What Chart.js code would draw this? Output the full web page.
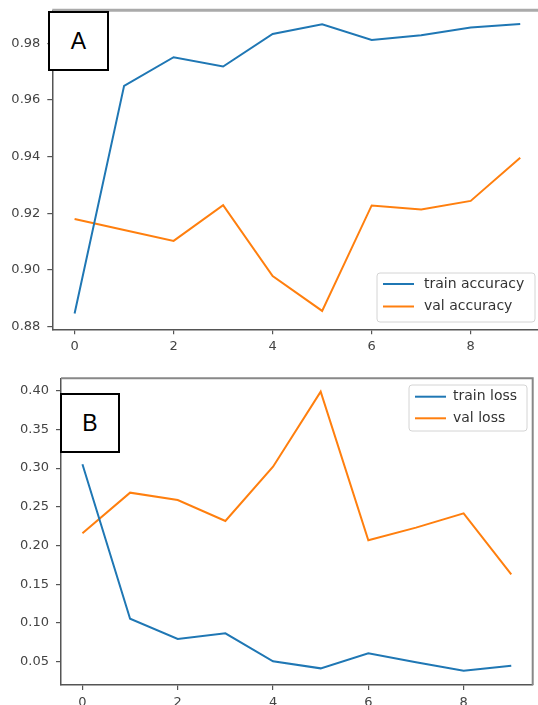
<!DOCTYPE html>
<html>
<head>
<meta charset="utf-8">
<title>Accuracy and loss</title>
<script src="https://cdn.jsdelivr.net/npm/chart.js@4.4.0/dist/chart.umd.min.js"></script>
<style>
  html, body { margin: 0; padding: 0; background: #fff; overflow: hidden; width: 538px; height: 705px; }
  canvas { position: absolute; left: 0; }
  .tag {
    position: absolute; box-sizing: border-box; border: 2px solid #000; background: #fff;
    font-family: "Liberation Sans", Arial, sans-serif; font-size: 23px; color: #000;
    display: flex; align-items: center; justify-content: center;
  }
</style>
</head>
<body>
<canvas id="accChart" width="560" height="360" style="top:-5px"></canvas>
<canvas id="lossChart" width="560" height="360" style="top:360px"></canvas>
<div class="tag" style="left:48px;top:11px;width:61px;height:60px">A</div>
<div class="tag" style="left:60px;top:393px;width:60px;height:60px">B</div>
<script>
// epochs on the x axis
const epochs = [0, 1, 2, 3, 4, 5, 6, 7, 8, 9];
const epochTicks = [0, 2, 4, 6, 8];

// panel A
const trainAcc = [0.8847, 0.9650, 0.9751, 0.9718, 0.9833, 0.9867, 0.9812, 0.9828, 0.9856, 0.9868];
const valAcc = [0.9180, 0.9141, 0.9103, 0.9229, 0.8979, 0.8856, 0.9228, 0.9214, 0.9244, 0.9396];
const accTicks = [0.88, 0.90, 0.92, 0.94, 0.96, 0.98];

// panel B
const trainLoss = [0.3049, 0.1055, 0.0793, 0.0866, 0.0505, 0.0414, 0.0608, 0.0492, 0.0383, 0.0448];
const valLoss = [0.2158, 0.2683, 0.2588, 0.2317, 0.3018, 0.3987, 0.2068, 0.2231, 0.2416, 0.1628];
const lossTicks = [0.05, 0.10, 0.15, 0.20, 0.25, 0.30, 0.35, 0.40];

const BLUE = '#1f77b4';
const ORANGE = '#ff7f0e';
const FONT = '"DejaVu Sans", Verdana, sans-serif';

// top / right spine in lighter grey
const framePlugin = {
  id: 'frame',
  beforeDatasetsDraw(chart, args, opts) {
    const a = chart.chartArea, ctx = chart.ctx;
    ctx.save();
    ctx.strokeStyle = opts.color;
    ctx.lineWidth = opts.width;
    ctx.beginPath();
    ctx.moveTo(a.left, a.top);
    ctx.lineTo(a.right, a.top);
    ctx.lineTo(a.right, a.bottom);
    ctx.stroke();
    ctx.restore();
  }
};

// matplotlib style legend box inside the axes
const boxLegend = {
  id: 'boxLegend',
  afterDatasetsDraw(chart, args, o) {
    const ctx = chart.ctx;
    ctx.save();
    ctx.beginPath();
    ctx.roundRect(o.x, o.y, o.w, o.h, 3);
    ctx.fillStyle = 'rgba(255,255,255,0.85)';
    ctx.fill();
    ctx.strokeStyle = '#d4d4d4';
    ctx.lineWidth = 1;
    ctx.stroke();
    ctx.font = '14px ' + FONT;
    ctx.textBaseline = 'middle';
    chart.data.datasets.forEach((ds, i) => {
      const y = o.rows[i];
      ctx.strokeStyle = ds.borderColor;
      ctx.lineWidth = 2;
      ctx.beginPath();
      ctx.moveTo(o.lineX, y);
      ctx.lineTo(o.lineX + 31, y);
      ctx.stroke();
      ctx.fillStyle = '#333';
      ctx.fillText(ds.label, o.textX, y);
    });
    ctx.restore();
  }
};

function axis(tickValues, fit, extra) {
  return Object.assign({
    type: 'linear',
    afterBuildTicks: s => { s.ticks = tickValues.map(v => ({ value: v })); },
    grid: { drawOnChartArea: false, drawTicks: true, tickLength: 5, color: '#555', lineWidth: 1.2 },
    border: { display: true, color: '#555', width: 1.5 },
    ticks: { color: '#444', font: { family: FONT, size: 13 }, padding: 5, maxRotation: 0, autoSkip: false }
  }, fit, extra);
}

function makeChart(id, series, yTicks, yMin, yMax, box) {
  return new Chart(document.getElementById(id), {
    type: 'line',
    data: {
      datasets: series.map(s => ({
        label: s.label,
        data: epochs.map((e, i) => ({ x: e, y: s.values[i] })),
        borderColor: s.color,
        borderWidth: 2,
        pointRadius: 0,
        tension: 0,
        fill: false
      }))
    },
    options: {
      responsive: false,
      animation: false,
      layout: { padding: box.padding },
      scales: {
        x: axis(epochTicks, { afterFit: s => { s.height = box.xh; } }, { min: -0.45, max: 9.45 }),
        y: axis(yTicks, { afterFit: s => { s.width = box.yw; } }, {
          min: yMin, max: yMax,
          ticks: { color: '#444', font: { family: FONT, size: 13 }, padding: 7, callback: v => v.toFixed(2) }
        })
      },
      plugins: {
        legend: { display: false },
        tooltip: { enabled: false },
        frame: box.frame,
        boxLegend: box.legend
      }
    },
    plugins: [framePlugin, boxLegend]
  });
}

// canvas A sits 5px above the page top, so its coordinates are shifted by +5
makeChart('accChart', [
  { label: 'train accuracy', values: trainAcc, color: BLUE },
  { label: 'val accuracy', values: valAcc, color: ORANGE }
], accTicks, 0.8791, 0.99164, {
  padding: { left: 0, top: 15.3, right: 17.5, bottom: 0 },
  yw: 52.3, xh: 25.7,
  frame: { color: '#aaa', width: 3 },
  legend: { x: 377, y: 278, w: 158, h: 49, rows: [289, 311.5], lineX: 383, textX: 424 }
});

makeChart('lossChart', [
  { label: 'train loss', values: trainLoss, color: BLUE },
  { label: 'val loss', values: valLoss, color: ORANGE }
], lossTicks, 0.0199, 0.416, {
  padding: { left: 0, top: 18.3, right: 27.3, bottom: 0 },
  yw: 61, xh: 35,
  frame: { color: '#888', width: 2 },
  legend: { x: 409, y: 25, w: 118, h: 46, rows: [36.7, 58.3], lineX: 415, textX: 453 }
});
</script>
</body>
</html>
